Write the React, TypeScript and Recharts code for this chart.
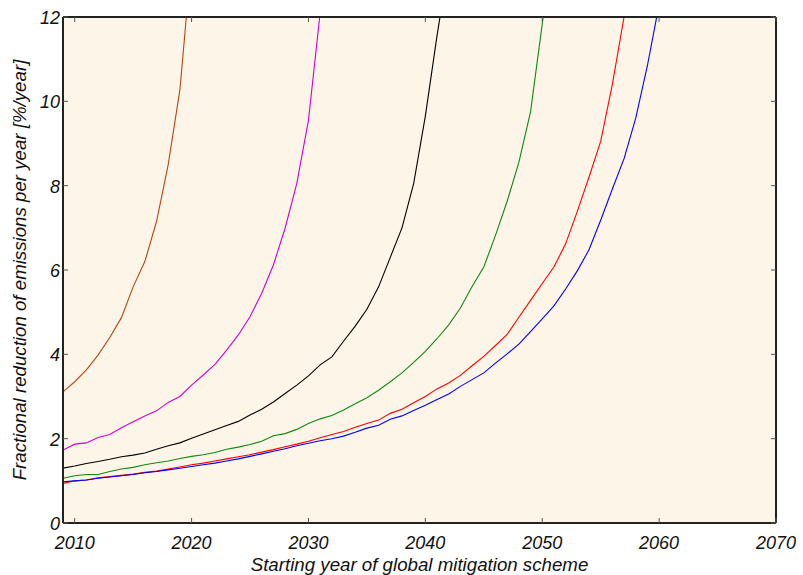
import React from "react";
import { LineChart, Line, XAxis, YAxis, CartesianGrid } from "recharts";

// starting years on the x axis, one value per year from 2009
const firstYear = 2009;
const years = Array.from({ length: 52 }, (_, i) => firstYear + i);
const xTicks = [2010, 2020, 2030, 2040, 2050, 2060, 2070];
const yTicks = [0, 2, 4, 6, 8, 10, 12];

// required reduction rate [%/year]
const brown = [3.11, 3.35, 3.63, 3.98, 4.4, 4.87, 5.6, 6.2, 7.15, 8.5, 10.27, 13.4];
const magenta = [
  1.73, 1.87, 1.9, 2.03, 2.1, 2.26, 2.4, 2.54, 2.66, 2.86, 3.0, 3.27, 3.51, 3.76,
  4.1, 4.46, 4.89, 5.45, 6.12, 6.99, 8.05, 9.55, 12.1,
];
const black = [
  1.3, 1.35, 1.41, 1.46, 1.51, 1.57, 1.61, 1.66, 1.75, 1.83, 1.9, 2.01, 2.11, 2.21,
  2.31, 2.41, 2.56, 2.7, 2.87, 3.07, 3.27, 3.49, 3.75, 3.94, 4.31, 4.67, 5.07, 5.6,
  6.3, 7.0, 8.05, 9.65, 11.56, 13.3,
];
const green = [
  1.06, 1.12, 1.15, 1.15, 1.22, 1.28, 1.32, 1.38, 1.43, 1.47, 1.53, 1.58, 1.62, 1.67,
  1.75, 1.8, 1.86, 1.94, 2.07, 2.12, 2.22, 2.36, 2.47, 2.55, 2.68, 2.83, 2.97, 3.15,
  3.35, 3.56, 3.81, 4.07, 4.37, 4.7, 5.1, 5.61, 6.07, 6.82, 7.63, 8.55, 9.75, 11.83,
  14.0,
];
const red = [
  0.94, 1.0, 1.02, 1.07, 1.1, 1.13, 1.16, 1.2, 1.23, 1.28, 1.33, 1.38, 1.42, 1.47,
  1.52, 1.57, 1.62, 1.68, 1.74, 1.81, 1.87, 1.94, 2.02, 2.1, 2.17, 2.27, 2.36, 2.44,
  2.6, 2.7, 2.85, 3.0, 3.18, 3.32, 3.5, 3.73, 3.95, 4.21, 4.47, 4.88, 5.28, 5.68,
  6.07, 6.62, 7.39, 8.2, 9.05, 10.4, 12.0, 13.8,
];
const blue = [
  0.98, 1.0, 1.02, 1.06, 1.09, 1.12, 1.15, 1.19, 1.22, 1.26, 1.3, 1.34, 1.38, 1.42,
  1.47, 1.52, 1.58, 1.64, 1.7, 1.76, 1.83, 1.89, 1.95, 2.0, 2.06, 2.15, 2.25, 2.32,
  2.46, 2.54, 2.67, 2.79, 2.93, 3.06, 3.24, 3.4, 3.56, 3.79, 4.01, 4.24, 4.54, 4.84,
  5.15, 5.55, 5.98, 6.48, 7.18, 7.92, 8.64, 9.6, 10.85, 12.3,
];

const series = [
  { key: "brown", values: brown, color: "#b8460e" },
  { key: "magenta", values: magenta, color: "#d000d0" },
  { key: "black", values: black, color: "#000000" },
  { key: "green", values: green, color: "#118811" },
  { key: "red", values: red, color: "#ff0000" },
  { key: "blue", values: blue, color: "#0000ff" },
];

const data = years.map((year, i) => {
  const row: Record<string, number | undefined> = { year };
  series.forEach((s) => {
    row[s.key] = s.values[i];
  });
  return row;
});

const font = "'Liberation Sans', Arial, sans-serif";
const tickStroke = "#555";
const frame = "#222";

const BottomTick = (props: any) => {
  const { x, y, payload } = props;
  return (
    <g>
      <line x1={x} x2={x} y1={y} y2={y - 5} stroke={tickStroke} />
      <text x={x} y={y + 26} textAnchor="middle" fontSize={18} fontStyle="italic" fontFamily={font} fill="#111">
        {payload.value}
      </text>
    </g>
  );
};

const TopTick = (props: any) => {
  const { x, y } = props;
  return <line x1={x} x2={x} y1={y} y2={y + 5} stroke={tickStroke} />;
};

const LeftTick = (props: any) => {
  const { x, y, payload } = props;
  return (
    <g>
      <line x1={x} x2={x + 5} y1={y} y2={y} stroke={tickStroke} />
      <text x={x - 3} y={y + 7} textAnchor="end" fontSize={18} fontStyle="italic" fontFamily={font} fill="#111">
        {payload.value}
      </text>
    </g>
  );
};

const RightTick = (props: any) => {
  const { x, y } = props;
  return <line x1={x} x2={x - 5} y1={y} y2={y} stroke={tickStroke} />;
};

const App: React.FC = () => {
  return (
    <div style={{ position: "absolute", left: 0, top: 0, width: 803, height: 575, background: "#fff" }}>
      <LineChart width={803} height={575} data={data} margin={{ top: 0, right: 0, bottom: 0, left: 0 }}>
        <CartesianGrid fill="#fdf5e8" horizontal={false} vertical={false} />
        <XAxis
          dataKey="year"
          type="number"
          domain={[2009, 2070]}
          ticks={xTicks}
          allowDataOverflow
          height={52}
          tickSize={0}
          tickMargin={0}
          tickLine={false}
          axisLine={{ stroke: frame, strokeWidth: 2 }}
          tick={<BottomTick />}
          interval={0}
          label={{
            value: "Starting year of global mitigation scheme",
            position: "insideBottom",
            offset: 4,
            style: { fontSize: 18.7, fontStyle: "italic", fontFamily: font, fill: "#111" },
          }}
        />
        <XAxis
          xAxisId="top"
          orientation="top"
          dataKey="year"
          type="number"
          domain={[2009, 2070]}
          ticks={xTicks}
          allowDataOverflow
          height={17}
          tickSize={0}
          tickMargin={0}
          tickLine={false}
          axisLine={{ stroke: frame, strokeWidth: 2 }}
          tick={<TopTick />}
          interval={0}
        />
        <YAxis
          type="number"
          domain={[0, 12]}
          ticks={yTicks}
          allowDataOverflow
          width={63}
          tickSize={0}
          tickMargin={0}
          tickLine={false}
          axisLine={{ stroke: frame, strokeWidth: 2 }}
          tick={<LeftTick />}
          interval={0}
          label={{
            value: "Fractional reduction of emissions per year [%/year]",
            position: "insideLeft",
            angle: -90,
            offset: 19,
            style: { textAnchor: "middle", fontSize: 18.7, fontStyle: "italic", fontFamily: font, fill: "#111" },
          }}
        />
        <YAxis
          yAxisId="right"
          orientation="right"
          type="number"
          domain={[0, 12]}
          ticks={yTicks}
          allowDataOverflow
          width={27}
          tickSize={0}
          tickMargin={0}
          tickLine={false}
          axisLine={{ stroke: frame, strokeWidth: 2 }}
          tick={<RightTick />}
          interval={0}
        />
        {series.map((s) => (
          <Line
            key={s.key}
            type="linear"
            dataKey={s.key}
            stroke={s.color}
            strokeWidth={1.1}
            dot={false}
            activeDot={false}
            isAnimationActive={false}
          />
        ))}
      </LineChart>
    </div>
  );
};

export default App;
